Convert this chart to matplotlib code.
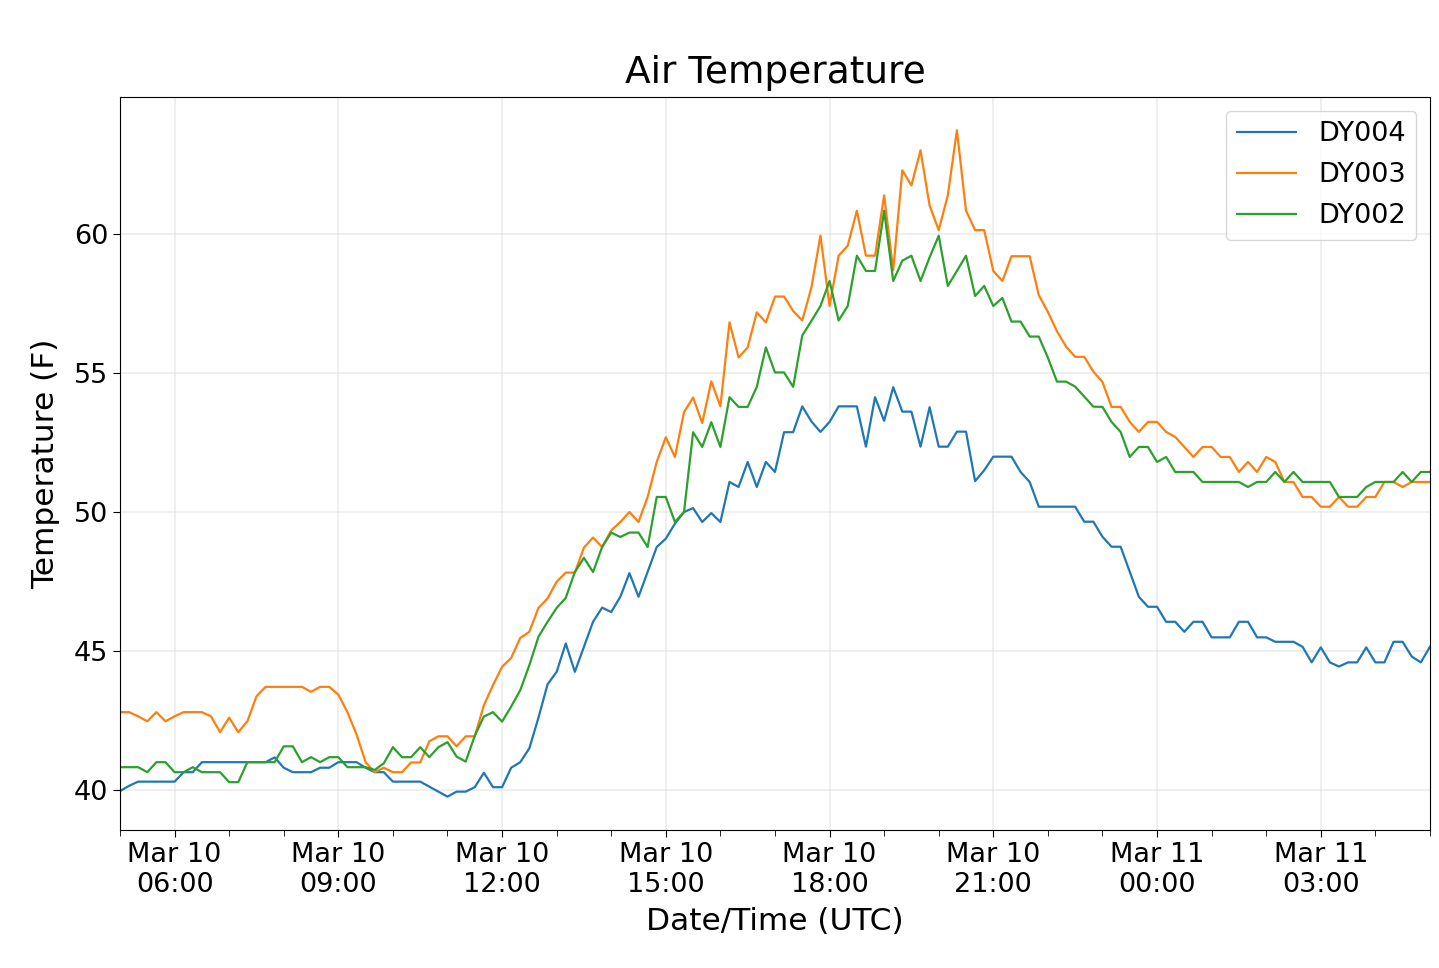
import numpy as np
import pandas as pd
import matplotlib
matplotlib.use('Agg')
import matplotlib.pyplot as plt
import matplotlib.dates as mdates

# 10-minute readings, Mar 10 05:00 -> Mar 11 05:00 (UTC)
times = pd.date_range('2019-03-10 05:00', periods=145, freq='10min')

dy004 = [39.96, 40.15, 40.3, 40.3, 40.3, 40.3, 40.3, 40.64, 40.64, 41.0,
         41.0, 41.0, 41.0, 41.0, 41.0, 41.0, 41.0, 41.17, 40.8, 40.64,
         40.64, 40.64, 40.8, 40.8, 41.0, 41.0, 41.0, 40.8, 40.64, 40.64,
         40.3, 40.3, 40.3, 40.3, 40.12, 39.94, 39.76, 39.94, 39.94, 40.1,
         40.62, 40.1, 40.1, 40.8, 41.0, 41.5, 42.6, 43.8, 44.25, 45.27,
         44.25, 45.15, 46.05, 46.56, 46.4, 46.95, 47.8, 46.95, 47.84, 48.74,
         49.04, 49.58, 50.0, 50.14, 49.64, 49.96, 49.64, 51.08, 50.9, 51.8,
         50.9, 51.8, 51.44, 52.87, 52.87, 53.8, 53.26, 52.88, 53.24, 53.8,
         53.8, 53.8, 52.35, 54.13, 53.28, 54.49, 53.61, 53.61, 52.35, 53.77,
         52.35, 52.35, 52.89, 52.89, 51.11, 51.5, 51.99, 51.99, 51.99, 51.44,
         51.08, 50.19, 50.19, 50.19, 50.19, 50.19, 49.65, 49.65, 49.11, 48.75,
         48.75, 47.85, 46.95, 46.59, 46.59, 46.05, 46.05, 45.69, 46.05, 46.05,
         45.49, 45.49, 45.49, 46.05, 46.05, 45.49, 45.49, 45.33, 45.33, 45.33,
         45.15, 44.59, 45.13, 44.59, 44.44, 44.59, 44.59, 45.13, 44.59, 44.59,
         45.33, 45.33, 44.8, 44.59, 45.15]

dy003 = [42.8, 42.8, 42.65, 42.47, 42.8, 42.47, 42.65, 42.8, 42.8, 42.8,
         42.65, 42.08, 42.6, 42.08, 42.47, 43.37, 43.71, 43.71, 43.71, 43.71,
         43.71, 43.53, 43.71, 43.71, 43.43, 42.8, 42.0, 41.0, 40.64, 40.8,
         40.64, 40.64, 40.99, 40.99, 41.75, 41.93, 41.93, 41.57, 41.93, 41.93,
         43.05, 43.77, 44.43, 44.75, 45.47, 45.69, 46.55, 46.89, 47.49, 47.82,
         47.82, 48.72, 49.08, 48.74, 49.34, 49.64, 50.0, 49.64, 50.54, 51.8,
         52.69, 51.98, 53.59, 54.12, 53.2, 54.7, 53.8, 56.82, 55.56, 55.92,
         57.18, 56.82, 57.75, 57.75, 57.23, 56.89, 58.07, 59.94, 57.41, 59.22,
         59.58, 60.84, 59.22, 59.22, 61.39, 58.7, 62.29, 61.75, 63.01, 61.02,
         60.14, 61.39, 63.73, 60.84, 60.14, 60.14, 58.67, 58.31, 59.2, 59.2,
         59.2, 57.8, 57.2, 56.5, 55.95, 55.58, 55.58, 55.05, 54.68, 53.78,
         53.78, 53.24, 52.88, 53.24, 53.24, 52.88, 52.7, 52.34, 51.98, 52.34,
         52.34, 51.98, 51.98, 51.44, 51.8, 51.44, 51.98, 51.8, 51.08, 51.08,
         50.54, 50.54, 50.19, 50.19, 50.54, 50.19, 50.19, 50.54, 50.54, 51.08,
         51.08, 50.9, 51.08, 51.08, 51.08]

dy002 = [40.82, 40.82, 40.82, 40.64, 41.0, 41.0, 40.64, 40.64, 40.82, 40.64,
         40.64, 40.64, 40.28, 40.28, 41.0, 41.0, 41.0, 41.0, 41.57, 41.57,
         41.0, 41.18, 41.0, 41.18, 41.18, 40.82, 40.82, 40.82, 40.72, 40.96,
         41.54, 41.18, 41.18, 41.54, 41.18, 41.54, 41.72, 41.2, 41.02, 41.95,
         42.64, 42.8, 42.46, 43.0, 43.59, 44.49, 45.51, 46.05, 46.55, 46.91,
         47.84, 48.35, 47.84, 48.74, 49.26, 49.1, 49.26, 49.26, 48.74, 50.54,
         50.54, 49.64, 50.0, 52.87, 52.34, 53.23, 52.34, 54.13, 53.78, 53.78,
         54.5, 55.92, 55.02, 55.02, 54.5, 56.35, 56.87, 57.41, 58.31, 56.89,
         57.41, 59.22, 58.67, 58.67, 60.84, 58.31, 59.04, 59.22, 58.31, 59.16,
         59.94, 58.13, 58.67, 59.22, 57.77, 58.13, 57.41, 57.7, 56.85, 56.85,
         56.31, 56.31, 55.55, 54.69, 54.69, 54.51, 54.15, 53.79, 53.78, 53.24,
         52.88, 51.98, 52.34, 52.34, 51.8, 51.98, 51.44, 51.44, 51.44, 51.08,
         51.08, 51.08, 51.08, 51.08, 50.9, 51.08, 51.08, 51.44, 51.08, 51.44,
         51.08, 51.08, 51.08, 51.08, 50.54, 50.54, 50.54, 50.9, 51.08, 51.08,
         51.08, 51.44, 51.08, 51.44, 51.44]

stations = ['DY004', 'DY003', 'DY002']
series = [dy004, dy003, dy002]

fig = plt.figure(figsize=(14.39, 9.68), dpi=100)
ax = fig.add_axes([0.0834, 0.1426, 0.9103, 0.7572])

for name, vals in zip(stations, series):
    ax.plot(times, vals, lw=1.6, label=name)

ax.margins(x=0)
ax.xaxis.set_major_locator(mdates.HourLocator(byhour=range(0, 24, 3)))
ax.xaxis.set_minor_locator(mdates.HourLocator())
ax.xaxis.set_major_formatter(mdates.DateFormatter('%b %d\n%H:%M'))
ax.set_yticks([40, 45, 50, 55, 60])
ax.tick_params(axis='both', which='major', labelsize=19.5, length=5)
ax.tick_params(axis='x', which='minor', length=4)
ax.grid(True, color='#dddddd', alpha=0.6, lw=1.1)

ax.set_title('Air Temperature', fontsize=27, pad=10)
ax.set_xlabel('Date/Time (UTC)', fontsize=22.5, labelpad=7)
ax.set_ylabel('Temperature (F)', fontsize=22.5, labelpad=10)
ax.legend(loc='upper right', fontsize=19.5, handlelength=2.2, labelspacing=0.55)

plt.savefig('out.png')
